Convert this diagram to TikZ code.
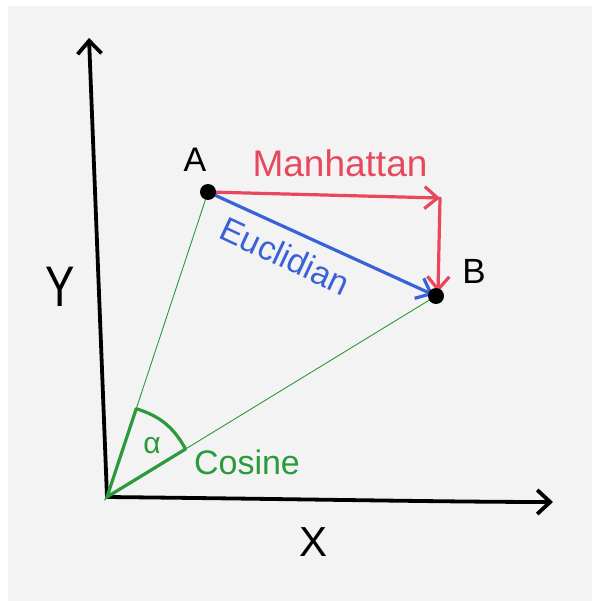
\documentclass[tikz,border=0pt]{standalone}
\usepackage{fontspec}
\setmainfont{Liberation Sans}
\usetikzlibrary{arrows.meta,calc}
\definecolor{bg}{HTML}{F3F3F3}
\definecolor{mred}{HTML}{E8475E}
\definecolor{eblue}{HTML}{3A62D8}
\definecolor{cgreen}{HTML}{2B9A3A}
\tikzset{
  axis/.style={line width=3.8pt, line cap=round, -{Straight Barb[length=13pt,width=24pt,line width=3.8pt]}},
  redarrow/.style={mred, line width=3.2pt, line cap=round, -{Straight Barb[length=13pt,width=22pt,line width=3.2pt]}},
  bluearrow/.style={eblue, line width=3.2pt, line cap=round, -{Straight Barb[length=13pt,width=22pt,line width=3.2pt]}},
  thin green/.style={cgreen, line width=0.9pt},
  thick green/.style={cgreen, line width=3.2pt, line cap=round},
  dot/.style={circle, fill=black, inner sep=0pt, minimum size=16pt},
  lbl/.style={inner sep=0pt}
}
\begin{document}
\begin{tikzpicture}[x=1pt,y=-1pt]
\useasboundingbox (0,0) rectangle (592,601);
\fill[white] (0,0) rectangle (592,601);
\fill[bg] (8,6) rectangle (592,601);
% points
\coordinate (O) at (107,497);
\coordinate (Ytip) at (89,38);
\coordinate (Xtip) at (553,502);
\coordinate (A) at (208,192);
\coordinate (B) at (436,296);
\coordinate (C) at (440,198);
% axes
\draw[axis] (O) -- (Ytip);
\draw[axis] (O) .. controls (300,499) and (450,502) .. (Xtip);
% cosine lines
\draw[thin green] (O) -- (A);
\draw[thin green] (O) -- (B);
\coordinate (PA) at ($(O)!93pt!(A)$);
\coordinate (PB) at ($(O)!92pt!(B)$);
\draw[thick green] (PA) -- (O) -- (PB);
\draw[thick green] (PA) to[bend left=22] (PB);
% manhattan
\draw[redarrow] (A) -- (C);
\draw[redarrow] (C) -- ($(B)+(2,-4)$);
% euclidian
\draw[bluearrow, shorten >=3pt] (A) -- (B);
% dots
\node[dot] (Adot) at (A) {};
\node[dot] (Bdot) at (B) {};
% labels
\node[lbl, font=\fontsize{34}{36}\selectfont] (Alabel) at (195,160) {A};
\node[lbl, font=\fontsize{35}{37}\selectfont] (Blabel) at (474,271) {B};
\node[lbl, mred, font=\fontsize{37}{39}\selectfont] (man) at (340,163) {Manhattan};
\node[lbl, eblue, font=\fontsize{34}{36}\selectfont, rotate=-25] (euc) at (285,256) {Euclidian};
\node[lbl, cgreen, font=\fontsize{34}{36}\selectfont] (cos) at (247,462) {Cosine};
\node[lbl, cgreen, font=\fontsize{30}{32}\selectfont] (alpha) at (152,446) {α};
\node[lbl, font=\fontsize{44}{46}\selectfont] (Ylabel) at (60,287) {\scalebox{1}[1.3]{Y}};
\node[lbl, font=\fontsize{42}{44}\selectfont] (Xlabel) at (314,542) {X};
\end{tikzpicture}
\end{document}
